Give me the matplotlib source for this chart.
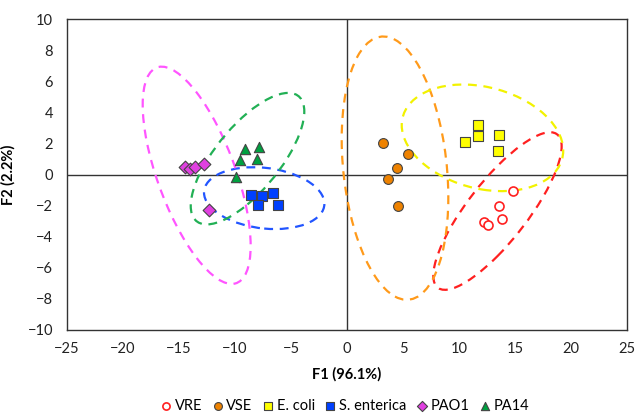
import numpy as np
import matplotlib.pyplot as plt
from matplotlib.patches import Ellipse
from matplotlib.transforms import Affine2D

plt.rcParams['font.family'] = ['Lato', 'DejaVu Sans']

# ----------------------------------------------------------
# 数据 (F1, F2 scores)
# ----------------------------------------------------------
vre_x = [14.85, 13.6, 13.8, 12.25, 12.55]
vre_y = [-1.03, -2.01, -2.89, -3.06, -3.28]

vse_x = [3.24, 5.42, 4.49, 3.69, 4.58]
vse_y = [2.01, 1.29, 0.43, -0.26, -2.04]

ecoli_x = [11.67, 11.67, 10.54, 13.57, 13.48]
ecoli_y = [3.17, 2.46, 2.08, 2.57, 1.50]

sent_x = [-8.6, -7.62, -6.64, -7.92, -6.19]
sent_y = [-1.31, -1.41, -1.18, -1.93, -1.93]

pao1_x = [-14.5, -14.0, -13.6, -12.8, -12.3]
pao1_y = [0.48, 0.38, 0.48, 0.66, -2.31]

pa14_x = [-9.1, -7.83, -9.55, -8.06, -9.91]
pa14_y = [1.62, 1.79, 0.95, 0.98, -0.14]

# ellipse: center x, center y, half width, half height, correlation
ell_vre = (13.44, -2.35, 5.73, 5.07, 0.82)
ell_vse = (4.29, 0.41, 4.76, 8.47, -0.22)
ell_ecoli = (12.10, 2.36, 7.21, 3.43, -0.24)
ell_sent = (-7.39, -1.52, 5.375, 1.99, -0.18)
ell_pao1 = (-13.42, -0.05, 4.82, 6.99, -0.648)
ell_pa14 = (-8.88, 1.02, 5.07, 4.23, 0.718)

xticks = [-25, -20, -15, -10, -5, 0, 5, 10, 15, 20, 25]
yticks = [-10, -8, -6, -4, -2, 0, 2, 4, 6, 8, 10]


def draw_ellipse(ax, params, color):
    cx, cy, hx, hy, rho = params
    # unit circle -> 仿射变换成目标椭圆
    m = np.array([[hx, 0.0, cx],
                  [rho * hy, hy * np.sqrt(1 - rho ** 2), cy],
                  [0.0, 0.0, 1.0]])
    e = Ellipse((0, 0), 2, 2, fill=False, edgecolor=color, linestyle=(0, (4, 3)),
                linewidth=1.6, transform=Affine2D(m) + ax.transData, zorder=2)
    ax.add_patch(e)


fig = plt.figure(figsize=(6.35, 4.15), dpi=100)
ax = fig.add_axes([0.1055, 0.205, 0.8818, 0.749])

ax.axhline(0, color="#333333", linewidth=1.0, zorder=1)
ax.axvline(0, color="#333333", linewidth=1.0, zorder=1)

draw_ellipse(ax, ell_vre, "#FF2020")
draw_ellipse(ax, ell_vse, "#FF9A1A")
draw_ellipse(ax, ell_ecoli, "#F2F200")
draw_ellipse(ax, ell_sent, "#2255FF")
draw_ellipse(ax, ell_pao1, "#FF55FF")
draw_ellipse(ax, ell_pa14, "#22B055")

ec = "#444444"
ax.scatter(vre_x, vre_y, s=42, marker="o", facecolor="white", edgecolor="#FF2020",
           linewidth=1.2, label="VRE", zorder=3)
ax.scatter(vse_x, vse_y, s=50, marker="o", facecolor="#EE8200", edgecolor=ec,
           linewidth=0.8, label="VSE", zorder=3)
ax.scatter(ecoli_x, ecoli_y, s=50, marker="s", facecolor="#FFFF00", edgecolor=ec,
           linewidth=0.8, label="E. coli", zorder=3)
ax.scatter(sent_x, sent_y, s=50, marker="s", facecolor="#0040FF", edgecolor=ec,
           linewidth=0.8, label="S. enterica", zorder=3)
ax.scatter(pao1_x, pao1_y, s=42, marker="D", facecolor="#E040E0", edgecolor=ec,
           linewidth=0.8, label="PAO1", zorder=3)
ax.scatter(pa14_x, pa14_y, s=55, marker="^", facecolor="#00A040", edgecolor=ec,
           linewidth=0.8, label="PA14", zorder=3)

ax.set_xlim(-25, 25)
ax.set_ylim(-10, 10)
ax.set_xticks(xticks)
ax.set_yticks(yticks)
ax.tick_params(axis="x", length=0, labelsize=10.5, pad=9, colors="#222222")
ax.tick_params(axis="y", length=0, labelsize=10.5, pad=10, colors="#222222")
for sp in ax.spines.values():
    sp.set_color("#333333")
    sp.set_linewidth(1.0)

ax.set_xlabel("F1 (96.1%)", fontsize=10.5, fontweight="bold", labelpad=8)
ax.set_ylabel("F2 (2.2%)", fontsize=10.5, fontweight="bold", labelpad=9)

leg = fig.legend(loc="lower center", bbox_to_anchor=(0.542, 0.0), ncol=6,
                 frameon=False, fontsize=10.5, handletextpad=0.15, columnspacing=0.6,
                 handlelength=0.9, markerscale=0.8, borderaxespad=0.05,
                 borderpad=0.1)

fig.savefig("out.png", dpi=100, facecolor="white")
